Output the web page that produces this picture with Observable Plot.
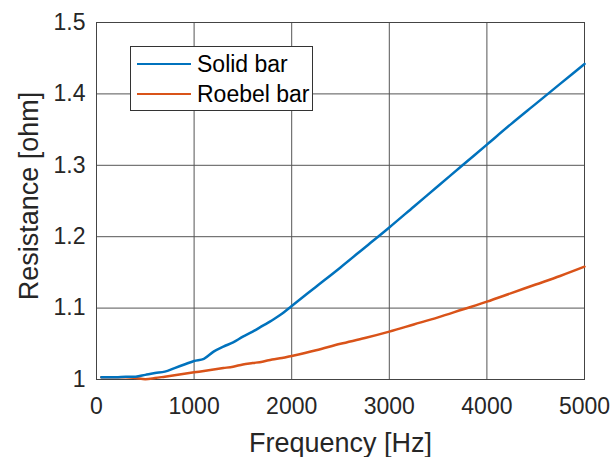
<!DOCTYPE html>
<html>
<head>
<meta charset="utf-8">
<script src="https://cdn.jsdelivr.net/npm/d3@7"></script>
<script src="https://cdn.jsdelivr.net/npm/@observablehq/plot@0.6"></script>
<style>
  body { margin: 0; background: #fff; }
  #wrap { position: relative; width: 613px; height: 457px; font-family: "Liberation Sans", Arial, sans-serif; }
  #legend { position: absolute; left: 130px; top: 46px; width: 181px; height: 63px; border: 1px solid #333; background: #fff; }
  .row { position: absolute; left: 6px; height: 26px; display: flex; align-items: center; font-size: 23px; color: #000; }
  .sw { width: 54px; height: 2.5px; margin-right: 6px; }
</style>
</head>
<body>
<div id="wrap"></div>
<script>
const freq   = [50,100,200,300,400,500,600,700,800,900,1000,1100,1200,1300,1400,1500,1600,1700,1800,1900,2000,2250,2500,2750,3000,3250,3500,3750,4000,4250,4500,4750,5000];
const solidBar  = [1.003,1.003,1.003,1.004,1.004,1.0065,1.009,1.011,1.016,1.021,1.026,1.029,1.039,1.046,1.052,1.060,1.067,1.075,1.083,1.092,1.103,1.130,1.157,1.185,1.213,1.242,1.271,1.300,1.329,1.358,1.386,1.414,1.442];
const roebelBar = [1.003,1.003,1.003,1.003,1.002,1.0005,1.002,1.004,1.006,1.008,1.010,1.012,1.014,1.016,1.018,1.021,1.023,1.025,1.028,1.030,1.033,1.041,1.050,1.058,1.067,1.077,1.087,1.098,1.109,1.121,1.133,1.145,1.158];
const seriesNames = ["Solid bar", "Roebel bar"];
const seriesColors = ["#0072BD", "#D95319"];
const xTicks = [0,1000,2000,3000,4000,5000];
const yTicks = [1,1.1,1.2,1.3,1.4,1.5];
const xTitle = "Frequency [Hz]";
const yTitle = "Resistance [ohm]";

const solidData = freq.map((f, i) => ({f, r: solidBar[i]}));
const roebelData = freq.map((f, i) => ({f, r: roebelBar[i]}));

const chart = Plot.plot({
  width: 613,
  height: 457,
  marginLeft: 96,
  marginRight: 29,
  marginTop: 22,
  marginBottom: 78,
  style: { fontFamily: "Liberation Sans, Arial, sans-serif", background: "#fff", color: "#262626" },
  x: { domain: [0, 5000], ticks: xTicks },
  y: { domain: [1, 1.5], ticks: yTicks },
  marks: [
    Plot.gridX(xTicks, { stroke: "#555", strokeOpacity: 1, strokeWidth: 1 }),
    Plot.gridY(yTicks, { stroke: "#555", strokeOpacity: 1, strokeWidth: 1 }),
    Plot.frame({ stroke: "#444", strokeWidth: 1 }),
    Plot.axisX(xTicks, { tickSize: 0, tickPadding: 18, fontSize: 23, label: null, tickFormat: d => String(d) }),
    Plot.axisY(yTicks, { tickSize: 0, tickPadding: 11, fontSize: 23, label: null, tickFormat: d => String(+d.toFixed(1)) }),
    Plot.line(roebelData, { x: "f", y: "r", stroke: seriesColors[1], strokeWidth: 2.5, curve: "monotone-x" }),
    Plot.line(solidData, { x: "f", y: "r", stroke: seriesColors[0], strokeWidth: 2.5, curve: "monotone-x" }),
    Plot.text([xTitle], { frameAnchor: "bottom", lineAnchor: "bottom", dy: 72, fontSize: 27, fill: "#262626" }),
    Plot.text([yTitle], { frameAnchor: "left", textAnchor: "middle", lineAnchor: "bottom", rotate: -90, dx: -59, dy: -5, fontSize: 27, fill: "#262626" })
  ]
});

const wrap = document.getElementById("wrap");
wrap.appendChild(chart);
const legend = document.createElement("div");
legend.id = "legend";
seriesNames.forEach((name, i) => {
  const row = document.createElement("div");
  row.className = "row";
  row.style.top = (4 + i * 30) + "px";
  const sw = document.createElement("span");
  sw.className = "sw";
  sw.style.background = seriesColors[i];
  const t = document.createElement("span");
  t.textContent = name;
  row.appendChild(sw);
  row.appendChild(t);
  legend.appendChild(row);
});
wrap.appendChild(legend);
</script>
</body>
</html>
